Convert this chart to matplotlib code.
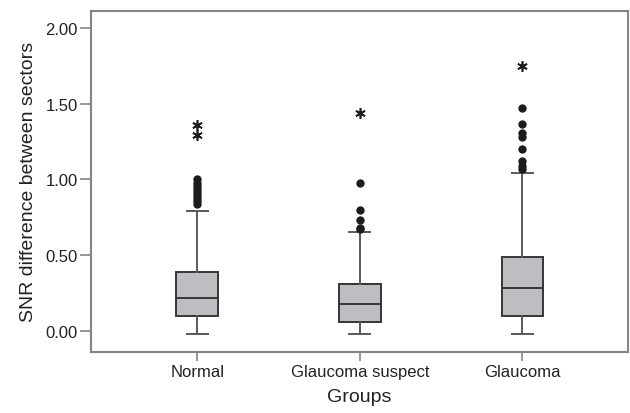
import matplotlib
matplotlib.use("Agg")
import matplotlib.pyplot as plt

plt.rcParams['font.family'] = ['Liberation Sans', 'DejaVu Sans']

# group names and box summary values
groups = ["Normal", "Glaucoma suspect", "Glaucoma"]
q1 = [0.10, 0.06, 0.10]
median = [0.216, 0.177, 0.28]
q3 = [0.39, 0.307, 0.485]
whisker_lo = [-0.02, -0.02, -0.02]
whisker_hi = [0.79, 0.655, 1.045]

# outliers (dots) and extreme values (asterisks)
outliers = [
    [0.84, 0.86, 0.88, 0.90, 0.92, 0.94, 0.96, 0.98, 1.00],
    [0.67, 0.68, 0.735, 0.80, 0.975],
    [1.07, 1.09, 1.12, 1.20, 1.28, 1.305, 1.37, 1.47],
]
extremes = [
    [1.295, 1.36],
    [1.44],
    [1.75],
]

y_ticks = [0.0, 0.5, 1.0, 1.5, 2.0]

SPINE = "#858585"
BOX_EDGE = "#363636"
LINE = "#5a5a5a"
FILL = "#bdbec1"

fig = plt.figure(figsize=(6.3, 4.14), dpi=100)
ax = fig.add_axes([0.144, 0.148, 0.853, 0.823])

stats = []
for i, name in enumerate(groups):
    stats.append({
        "label": name,
        "q1": q1[i], "med": median[i], "q3": q3[i],
        "whislo": whisker_lo[i], "whishi": whisker_hi[i],
        "fliers": [],
    })

positions = range(1, len(groups) + 1)
ax.bxp(stats, positions=positions, widths=0.256, capwidths=0.13,
       patch_artist=True, showfliers=False,
       boxprops=dict(facecolor=FILL, edgecolor=BOX_EDGE, linewidth=1.4),
       medianprops=dict(color=BOX_EDGE, linewidth=1.4),
       whiskerprops=dict(color=LINE, linewidth=1.4),
       capprops=dict(color=LINE, linewidth=1.4))

for pos, pts, ext in zip(positions, outliers, extremes):
    ax.plot([pos] * len(pts), pts, linestyle="none", marker="o",
            markersize=6, color="#1c1c1c", markeredgewidth=0)
    ax.plot([pos] * len(ext), ext, linestyle="none", marker=(6, 2, 0),
            markersize=7.5, color="#1c1c1c", markeredgewidth=1.2)

ax.set_xlim(0.345, 3.65)
ax.set_ylim(-0.139, 2.114)
ax.set_yticks(y_ticks)
ax.set_yticklabels([f"{v:.2f}" for v in y_ticks])
ax.set_xticks(list(positions))
ax.set_xticklabels(groups)

for s in ax.spines.values():
    s.set_color(SPINE)
    s.set_linewidth(1.5)
ax.tick_params(axis="both", colors=SPINE, labelcolor="#222222",
               labelsize=12, width=1.2)
ax.tick_params(axis="y", length=8, pad=1.5)
ax.tick_params(axis="x", length=6.5, pad=2.5)

ax.set_xlabel("Groups", fontsize=14, color="#222222", labelpad=6)
ax.set_ylabel("SNR difference between sectors", fontsize=14,
              color="#222222", labelpad=6)

fig.savefig("out.png", dpi=100)
